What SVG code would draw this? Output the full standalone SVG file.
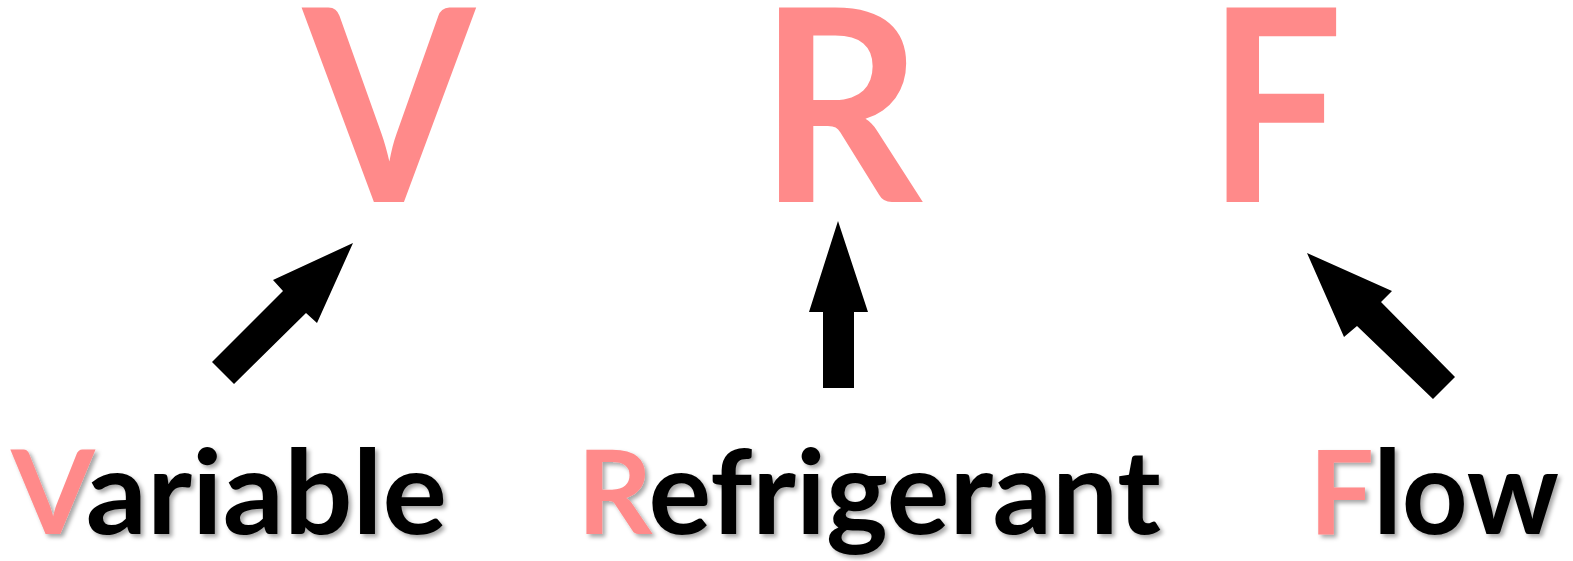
<svg xmlns="http://www.w3.org/2000/svg" width="1573" height="561" viewBox="0 0 1573 561">
  <style>
    .big { font-family: Lato, "Open Sans", sans-serif; font-weight: bold; font-size: 269px; fill: #FF8A8A; }
    .word { font-family: Lato, "Open Sans", sans-serif; font-weight: bold; font-size: 116px; fill: #000000; }
    .pink { fill: #FF8A8A; }
    .arrow { fill: #000000; }
  </style>
  <defs>
    <filter id="shadow" x="-5%" y="-20%" width="115%" height="150%">
      <feDropShadow dx="3" dy="3" stdDeviation="2" flood-color="#000000" flood-opacity="0.35"/>
    </filter>
  </defs>
  <rect width="1573" height="561" fill="#FFFFFF"/>
  <g id="letter-V" transform="translate(388,0) scale(0.92,1) translate(-388,0)"><text class="big" x="389" y="202" text-anchor="middle">V</text></g>
  <g id="letter-R" transform="translate(848,0) scale(0.947,1) translate(-858,0)"><text class="big" x="850" y="202" text-anchor="middle">R</text></g>
  <g id="letter-F" transform="translate(1277,0) scale(0.893,1) translate(-1283,0)"><text class="big" x="1281" y="202" text-anchor="middle">F</text></g>
  <g id="connectors">
    <polygon class="arrow" points="353,243 317,323 306,313 234,384 212,362 283,291 273,280"/>
    <polygon class="arrow" points="838,221 868,312 854,312 854,388 823,388 823,312 809,312"/>
    <polygon class="arrow" points="1307,253 1392,291 1381,302 1455,377 1433,399 1357,326 1344,337"/>
  </g>
  <g id="word-variable" filter="url(#shadow)"><text class="word" x="11" y="534" textLength="436" lengthAdjust="spacingAndGlyphs"><tspan class="pink">V</tspan>ariable</text></g>
  <g id="word-refrigerant" filter="url(#shadow)"><text class="word" x="577" y="534" textLength="584" lengthAdjust="spacingAndGlyphs"><tspan class="pink">R</tspan>efrigerant</text></g>
  <g id="word-flow" filter="url(#shadow)"><text class="word" x="1309" y="534" textLength="250" lengthAdjust="spacingAndGlyphs"><tspan class="pink">F</tspan>low</text></g>
</svg>
